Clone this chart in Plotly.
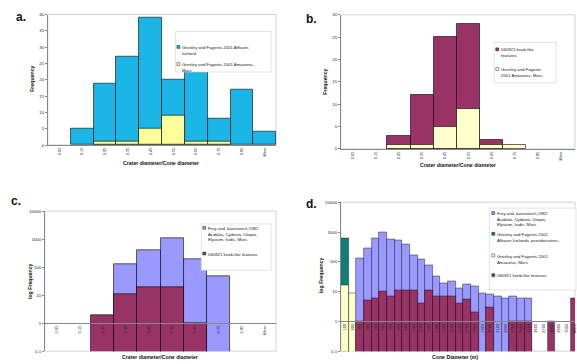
import plotly.graph_objects as go

# ---------------- data ----------------
ratio_bins = ["0.05", "0.15", "0.25", "0.35", "0.45", "0.55", "0.65", "0.75", "0.85", "More"]
iceland_ratio = [0, 5, 19, 27, 39, 20, 24, 8, 17, 4]
amazonis_ratio = [0, 0, 1, 1, 5, 9, 1, 1, 0, 0]
knob_ratio = [0, 0, 3, 12, 25, 28, 2, 0, 0, 0]
frey_ratio_log = [None, None, None, 130, 420, 1050, 195, 48, None, None]
knob_ratio_log = [None, None, 2, 11, 20, 20, 1, None, None, None]

diam_bins = [str(v) for v in range(100, 3100, 100)] + ["More"]
frey_diam = [None, None, 135, 277, 630, 1000, 570, 515, 390, 167, 126, 78, 32, 18.5, 23, 13, 17,
             14.7, 9, 8.4, 6.8, 6, 7, 6, 6, None, None, None, None, None, None]
alftaver_diam = [600] + [None] * 30
amazonis_diam = [16, 9] + [None] * 29
knob_diam = [None, None, 1, 5, 6, 10, 7, 11, 11, 11, 4, 11, 7, 7, 7, 4, 5.7, 2, None, 3, None,
             None, 1, 1, 1, None, None, 1, None, None, 6]

CYAN = "#1BB5E6"
YEL_A = "#FFFF99"
YEL = "#FFFFCC"
PLUM = "#993366"
PERI = "#9999FF"
TEAL = "#0F7F78"
FONT = "Liberation Sans"
W, H = 577, 364


def px(p):
    return p / W


def py(p):
    return 1 - p / H


def nz(vals):
    # zero counts are not drawn as bars
    return [v if v else None for v in vals]


fig = go.Figure()
ol = dict(color="black", width=0.6)

fig.add_trace(go.Bar(x=ratio_bins, y=nz(iceland_ratio), marker=dict(color=CYAN, line=ol), xaxis="x", yaxis="y"))
fig.add_trace(go.Bar(x=ratio_bins, y=nz(amazonis_ratio), marker=dict(color=YEL_A, line=ol), xaxis="x", yaxis="y"))

fig.add_trace(go.Bar(x=ratio_bins, y=nz(knob_ratio), marker=dict(color=PLUM, line=ol), xaxis="x2", yaxis="y2"))
fig.add_trace(go.Bar(x=ratio_bins, y=nz(amazonis_ratio), marker=dict(color=YEL, line=ol), xaxis="x2", yaxis="y2"))

fig.add_trace(go.Bar(x=ratio_bins, y=frey_ratio_log, marker=dict(color=PERI, line=ol), xaxis="x3", yaxis="y3"))
fig.add_trace(go.Bar(x=ratio_bins, y=knob_ratio_log, marker=dict(color=PLUM, line=ol), xaxis="x3", yaxis="y3"))

ol2 = dict(color="black", width=0.4)
fig.add_trace(go.Bar(x=diam_bins, y=frey_diam, marker=dict(color=PERI, line=ol2), xaxis="x4", yaxis="y4"))
fig.add_trace(go.Bar(x=diam_bins, y=alftaver_diam, marker=dict(color=TEAL, line=ol2), xaxis="x4", yaxis="y4"))
fig.add_trace(go.Bar(x=diam_bins, y=amazonis_diam, marker=dict(color=YEL, line=ol2), xaxis="x4", yaxis="y4"))
fig.add_trace(go.Bar(x=diam_bins, y=knob_diam, marker=dict(color=PLUM, line=ol2), xaxis="x4", yaxis="y4"))

tickf = dict(family=FONT, size=4, color="#222")
xcommon = dict(type="category", tickangle=-90, tickfont=tickf, showline=True, linecolor="#888",
               linewidth=0.8, ticks="", showgrid=False, zeroline=False, fixedrange=True)
ycommon = dict(tickfont=dict(family=FONT, size=4.3, color="#222"), showline=True, linecolor="#888",
               linewidth=0.8, ticks="outside", ticklen=2, tickcolor="#888", showgrid=False,
               zeroline=False, fixedrange=True)
logticks = [0.1, 1, 10, 100, 1000, 10000]
logtext = ["0.1", "1", "10", "100", "1000", "10000"]

fig.update_layout(
    width=W, height=H, margin=dict(l=0, r=0, t=0, b=0),
    paper_bgcolor="white", plot_bgcolor="white",
    barmode="overlay", bargap=0, showlegend=False,
    font=dict(family=FONT),
    xaxis=dict(domain=[px(48), px(277)], range=[-0.5, 9.5], anchor="y", **xcommon),
    yaxis=dict(domain=[py(145), py(12.7)], range=[0, 40], dtick=5, anchor="x", **ycommon),
    xaxis2=dict(domain=[px(342), 1], range=[-0.5, 9.6], anchor="y2", **xcommon),
    yaxis2=dict(domain=[py(149), py(13)], range=[0, 30], dtick=5, anchor="x2", **ycommon),
    xaxis3=dict(domain=[px(45), px(277)], range=[-0.5, 9.5], anchor="free", position=py(325.6), **xcommon),
    yaxis3=dict(domain=[py(354), py(212)], type="log", range=[-1, 4], tickvals=logticks,
                ticktext=logtext, anchor="x3", **ycommon),
    xaxis4=dict(domain=[px(342), 1], range=[-0.5, 30.1], anchor="free", position=py(323.8), **xcommon),
    yaxis4=dict(domain=[py(354), py(203)], type="log", range=[-1, 4], tickvals=logticks,
                ticktext=logtext, anchor="x4", **ycommon),
)

shapes = []
for xa, ya in [("x", "y"), ("x2", "y2"), ("x3", "y3"), ("x4", "y4")]:
    shapes.append(dict(type="rect", xref=f"{xa} domain", yref=f"{ya} domain", x0=0, x1=1, y0=0, y1=1,
                       line=dict(color="#C8C8C8", width=0.8), layer="below"))

annotations = []


def text(x, y, s, size, bold=False, angle=0, xanchor="center", yanchor="middle", color="#111", align="center"):
    annotations.append(dict(x=px(x), y=py(y), xref="paper", yref="paper", text=f"<b>{s}</b>" if bold else s,
                            showarrow=False, textangle=angle, xanchor=xanchor, yanchor=yanchor, align=align,
                            borderpad=0, font=dict(family=FONT, size=size, color=color)))


# panel letters
text(21, 15, "a.", 12, bold=True)
text(313, 17, "b.", 12, bold=True)
text(16, 202, "c.", 12, bold=True)
text(313, 205, "d.", 12, bold=True)

# axis titles
text(162, 163, "Crater diameter/Cone diameter", 5.2, bold=True)
text(460, 165, "Crater diameter/Cone diameter", 5.2, bold=True)
text(161, 363.5, "Crater diameter/Cone diameter", 5.2, bold=True, yanchor="bottom")
text(457, 363.5, "Cone Diameter (m)", 5.2, bold=True, yanchor="bottom")
text(32, 78, "Frequency", 5.2, bold=True, angle=-90)
text(326, 81, "Frequency", 5.2, bold=True, angle=-90)
text(30, 283, "log Frequency", 5.2, bold=True, angle=-90)
text(322, 277, "log Frequency", 5.2, bold=True, angle=-90)


def legend(box, mx, entries, fs=4.3):
    x0, y0, x1, y1 = box
    shapes.append(dict(type="rect", xref="paper", yref="paper", x0=px(x0), x1=px(x1), y0=py(y1), y1=py(y0),
                       line=dict(color="#D0D0D0", width=0.6), fillcolor="white", layer="above"))
    for my, col, s in entries:
        shapes.append(dict(type="rect", xref="paper", yref="paper", x0=px(mx - 1.5), x1=px(mx + 1.5),
                           y0=py(my + 1.5), y1=py(my - 1.5), line=dict(color="black", width=0.4),
                           fillcolor=col, layer="above"))
        text(mx + 2.5, my - 2.9, s, fs, xanchor="left", yanchor="top", color="#222", align="left")


legend((176, 30, 272, 71), 179, [
    (45.5, CYAN, "Greeley and Fagents 2001 Alftaver,<br>Iceland"),
    (63, YEL_A, "Greeley and Fagents 2001 Amazonis,<br>Mars"),
])
legend((496, 41, 558, 82), 499, [
    (48, PLUM, "060821 knob-like<br>features"),
    (68, YEL, "Greeley and Fagents<br>2001 Amazonis, Mars"),
])
legend((202, 225, 272, 272), 205, [
    (229, PERI, "Frey and Jarosewich 1982<br>Acidalia, Cydonia, Utopia,<br>Elysium, Isidis, Mars"),
    (255, PLUM, "060821 knob-like features"),
])
legend((491, 209, 578, 292), 495, [
    (214, PERI, "Frey and Jarosewich 1982<br>Acidalia, Cydonia, Utopia,<br>Elysium, Isidis, Mars"),
    (235, TEAL, "Greeley and Fagents 2001<br>Alftaver Icelandic pseudocraters"),
    (257, YEL, "Greeley and Fagents 2001<br>Amazonis, Mars"),
    (277, PLUM, "060821 knob-like features"),
])

fig.update_layout(shapes=shapes, annotations=annotations)
# remove the browser's default page margin so the 577x364 figure fills the window exactly
fig.write_html("out.html", config={"displayModeBar": False},
               post_script="document.body.style.margin='0';document.body.style.overflow='hidden';")
